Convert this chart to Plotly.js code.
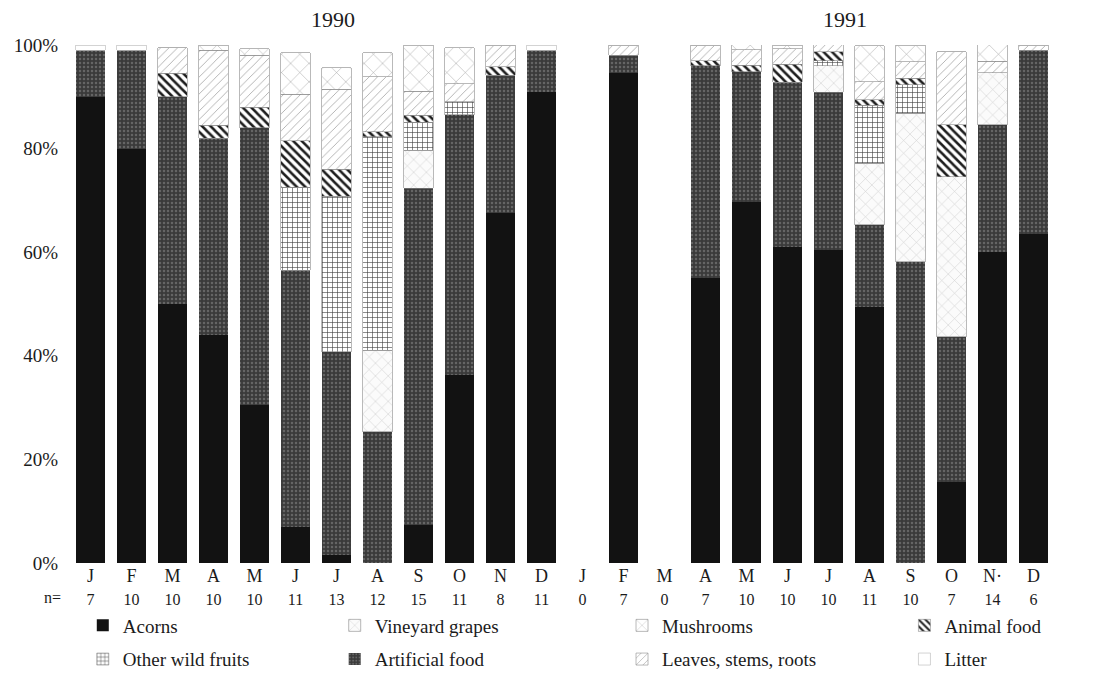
<!DOCTYPE html>
<html>
<head>
<meta charset="utf-8">
<script src="https://cdn.plot.ly/plotly-3.0.1.min.js"></script>
<style>
  html, body { margin: 0; padding: 0; background: #fff; }
  #chart { width: 1109px; height: 679px; }
</style>
</head>
<body>
<div id="chart"></div>
<script>
// Monthly diet composition (% of volume), 1990 then 1991; null = no samples
const months = ['J','F','M','A','M','J','J','A','S','O','N','D',
                'J','F','M','A','M','J','J','A','S','O','N·','D'];
const sampleSizes = [7,10,10,10,10,11,13,12,15,11,8,11,
                     0,7,0,7,10,10,10,11,10,7,14,6];

const acorns      = [90, 80, 50, 44, 30.5, 7, 1.5, 0, 7.3, 36.3, 67.5, 91,
                     null, 94.5, null, 55, 69.7, 61, 60.4, 49.4, 0, 15.7, 60.1, 63.6];
const artificial  = [9, 19, 40, 38, 53.5, 49.5, 39.3, 25.3, 65, 50.2, 26.7, 8,
                     null, 3.5, null, 41, 25.1, 31.8, 30.5, 15.9, 58.2, 28, 24.5, 35.4];
const grapes      = [0, 0, 0, 0, 0, 0, 0, 15.8, 7.4, 0, 0, 0,
                     null, 0, null, 0, 0, 0, 5.1, 11.9, 28.6, 30.9, 10, 0];
const wildFruits  = [0, 0, 0, 0, 0, 16, 30, 41.2, 5.4, 2.5, 0, 0,
                     null, 0, null, 0, 0, 0, 1, 11.2, 5.5, 0, 0, 0];
const animalFood  = [0, 0, 4.5, 2.5, 4, 9, 5.2, 1, 1.3, 0, 1.6, 0,
                     null, 0, null, 1, 1.3, 3.5, 1.7, 1, 1.3, 10, 0, 0];
const leaves      = [0, 0, 5, 14.5, 10, 9, 15.5, 10.6, 4.7, 3.5, 4.2, 0,
                     null, 2, null, 3, 3, 3, 1.5, 3.5, 3.2, 14.1, 2.3, 1];
const mushrooms   = [0, 0, 0, 1, 1.3, 8, 4.1, 4.6, 8.9, 7, 0, 0,
                     null, 0, null, 0, 1, 0.7, 0, 7, 3.2, 0, 3.2, 0];
const litter      = [1, 1, 0, 0, 0, 0, 0, 0, 0, 0, 0, 1,
                     null, 0, null, 0, 0, 0, 0, 0, 0, 0, 0, 0];

const xPos = months.map((_, i) => i);
const tickText = months.map((m, i) =>
  m + '<br><span style="font-size:16px">' + sampleSizes[i] + '</span>');

const FONT = 'Liberation Serif, "DejaVu Serif", serif';
const INK = '#1b1b1b';
const edge = { width: 0.6, color: '#8a8a8a' };

function series(name, values, marker, legendId, rank) {
  return {
    type: 'bar', name: name, x: xPos, y: values,
    marker: marker, legend: legendId, legendrank: rank,
    legendgroup: name, hoverinfo: 'name+y'
  };
}

const traces = [
  series('Acorns', acorns, { color: '#121212', line: { width: 0 } }, 'legend', 1),
  series('Artificial food', artificial, {
    color: '#3a3a3a', line: { width: 0 },
    pattern: { shape: '.', fillmode: 'overlay', fgcolor: '#909090', size: 4, solidity: 0.3 }
  }, 'legend2', 2),
  series('Vineyard grapes', grapes, {
    color: '#ffffff', line: edge,
    pattern: { shape: 'x', fgcolor: '#cfcfcf', bgcolor: '#fbfbfb', size: 9, solidity: 0.12 }
  }, 'legend2', 1),
  series('Other wild fruits', wildFruits, {
    color: '#ffffff', line: edge,
    pattern: { shape: '+', fgcolor: '#3a3a3a', bgcolor: '#ffffff', size: 5, solidity: 0.22 }
  }, 'legend', 2),
  series('Animal food', animalFood, {
    color: '#ffffff', line: edge,
    pattern: { shape: '\\', fgcolor: '#1e1e1e', bgcolor: '#ffffff', size: 6, solidity: 0.42 }
  }, 'legend4', 1),
  series('Leaves, stems, roots', leaves, {
    color: '#ffffff', line: edge,
    pattern: { shape: '/', fgcolor: '#a9a9a9', bgcolor: '#ffffff', size: 6, solidity: 0.14 }
  }, 'legend3', 2),
  series('Mushrooms', mushrooms, {
    color: '#ffffff', line: edge,
    pattern: { shape: 'x', fgcolor: '#9a9a9a', bgcolor: '#ffffff', size: 13, solidity: 0.07 }
  }, 'legend3', 1),
  series('Litter', litter, {
    color: '#ffffff', line: { width: 0.6, color: '#b5b5b5' }
  }, 'legend4', 2)
];

function legendAt(xPaper) {
  return {
    x: xPaper, y: -0.084, xanchor: 'left', yanchor: 'top',
    orientation: 'v', bgcolor: 'rgba(0,0,0,0)', borderwidth: 0,
    font: { family: FONT, size: 19, color: INK },
    tracegroupgap: 6, traceorder: 'grouped'
  };
}

const layout = {
  width: 1109, height: 679,
  margin: { l: 70, r: 55, t: 45, b: 116, autoexpand: false },
  paper_bgcolor: '#ffffff', plot_bgcolor: '#ffffff',
  font: { family: FONT, color: INK },
  barmode: 'stack', bargap: 0.27,
  showlegend: true,
  xaxis: {
    range: [-0.5, 23.5], tickmode: 'array', tickvals: xPos, ticktext: tickText,
    showgrid: false, zeroline: false, showline: false, ticks: '',
    ticklabelstandoff: 0,
    tickfont: { family: FONT, size: 18, color: INK }, fixedrange: true
  },
  yaxis: {
    range: [0, 100], tickmode: 'array', tickvals: [0, 20, 40, 60, 80, 100],
    ticktext: ['0%', '20%', '40%', '60%', '80%', '100%'],
    showgrid: false, zeroline: false, showline: false, ticks: '',
    ticklabelstandoff: 11,
    tickfont: { family: FONT, size: 19, color: INK }, fixedrange: true
  },
  legend: legendAt(0.013),
  legend2: legendAt(0.269),
  legend3: legendAt(0.561),
  legend4: legendAt(0.848),
  annotations: [
    { text: '1990', xref: 'paper', yref: 'paper', x: 0.267, y: 1.05,
      xanchor: 'center', yanchor: 'middle',
      showarrow: false, font: { family: FONT, size: 22, color: INK } },
    { text: '1991', xref: 'paper', yref: 'paper', x: 0.788, y: 1.05,
      xanchor: 'center', yanchor: 'middle',
      showarrow: false, font: { family: FONT, size: 22, color: INK } },
    { text: 'n=', xref: 'paper', yref: 'paper', x: -0.018, y: -0.067,
      xanchor: 'center', yanchor: 'middle',
      showarrow: false, font: { family: FONT, size: 16, color: INK } }
  ]
};

Plotly.newPlot('chart', traces, layout, { displayModeBar: false, staticPlot: true });
</script>
</body>
</html>
